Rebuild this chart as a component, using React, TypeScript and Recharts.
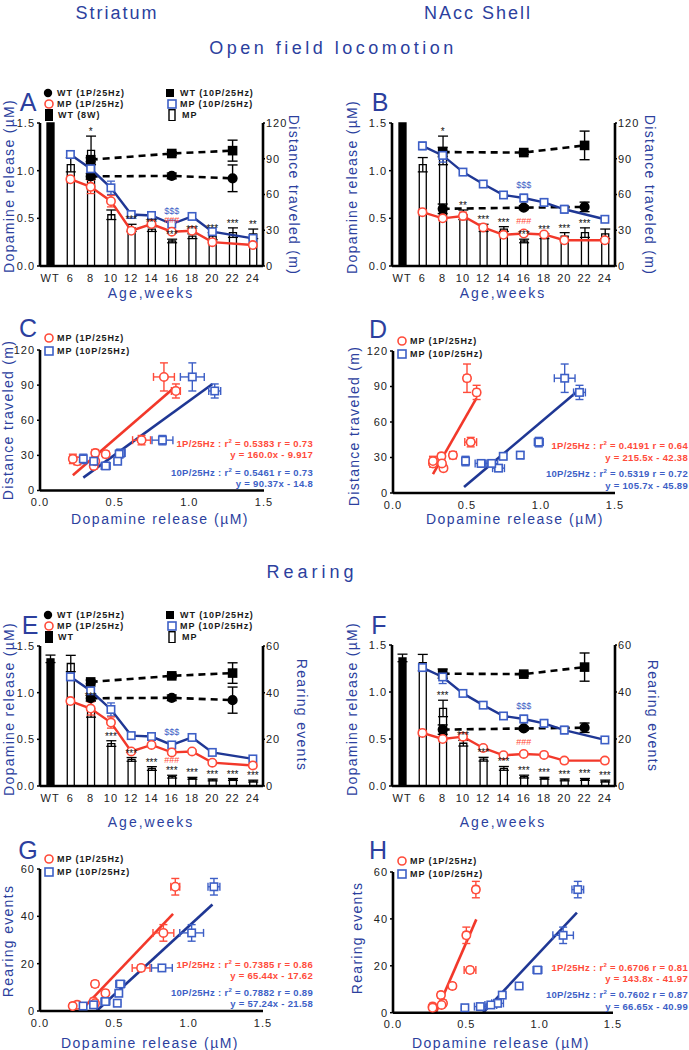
import React from "react"
import {
  ComposedChart,
  ScatterChart,
  Bar,
  Line,
  Scatter,
  XAxis,
  YAxis,
  ErrorBar,
  Cell,
  LabelList,
  ReferenceLine,
} from "recharts"

const FONT = "'Liberation Sans', Arial, Helvetica, sans-serif"
const BLUE = "#2c3f9e"
const NAVY = "#1f3794"
const LBLUE = "#3d5fc6"
const RED = "#f2382a"
const LRED = "#ff4b3a"

// categories
const ages = ["WT", "6", "8", "10", "12", "14", "16", "18", "20", "22", "24"]

// striatum dopamine release (uM)
const strMP1 = [null, 0.91, 0.83, 0.68, 0.37, 0.44, 0.36, 0.37, 0.25, null, 0.22]
const strMP1Err = [null, 0.03, 0.07, 0.06, 0.02, 0.02, 0.02, 0.02, 0.02, null, 0.02]
const strMP10 = [null, 1.17, 1.02, 0.82, 0.54, 0.53, 0.44, 0.52, 0.36, null, 0.29]
const strMP10Err = [null, 0.04, 0.08, 0.07, 0.03, 0.02, 0.03, 0.02, 0.02, null, 0.02]
const strWT1 = [null, null, 0.94, null, null, null, 0.945, null, null, 0.92, null]
const strWT1Err = [null, null, 0.03, null, null, null, 0.03, null, null, 0.14, null]
const strWT10 = [null, null, 1.115, null, null, null, 1.18, null, null, 1.21, null]
const strWT10Err = [null, null, 0.02, null, null, null, 0.02, null, null, 0.11, null]

// NAcc shell dopamine release (uM)
const nacMP1 = [null, 0.565, 0.5, 0.525, 0.405, 0.327, 0.341, 0.331, 0.27, null, 0.27]
const nacMP1Err = [null, 0.02, 0.02, 0.04, 0.02, 0.02, 0.02, 0.02, 0.02, null, 0.02]
const nacMP10 = [null, 1.26, 1.16, 0.985, 0.86, 0.745, 0.713, 0.667, 0.595, null, 0.49]
const nacMP10Err = [null, 0.04, 0.07, 0.03, 0.02, 0.02, 0.04, 0.04, 0.04, null, 0.02]
const nacWT1 = [null, null, 0.6, null, null, null, 0.612, null, null, 0.62, null]
const nacWT1Err = [null, null, 0.05, null, null, null, 0.02, null, null, 0.05, null]
const nacWT10 = [null, null, 1.195, null, null, null, 1.19, null, null, 1.265, null]
const nacWT10Err = [null, null, 0.05, null, null, null, 0.02, null, null, 0.15, null]

// behaviour (MP bars, WT bar first)
const distance = [120, 85, 97, 43, 32, 31, 21, 25, 25, 28, 27]
const distanceErr = [0, 6, 12, 4, 3, 2, 1.5, 2, 3, 4, 4]
const rearing = [54.5, 52.5, 33, 18.2, 11.4, 7.5, 4, 3.3, 2.6, 2.8, 2.1]
const rearingErr = [1.6, 3.5, 3.5, 1.2, 0.8, 0.8, 0.6, 0.4, 0.4, 0.4, 0.4]

// significance marks
const starsA = ["", "", "*", "", "***", "***", "***", "***", "***", "***", "**"]
const starsB = ["", "", "*", "**", "***", "***", "***", "***", "***", "***", ""]
const starsE = ["", "", "***", "***", "***", "***", "***", "***", "***", "***", "***"]
const starsF = ["", "", "***", "***", "***", "***", "***", "***", "***", "***", "***"]
const sigBlue = ["", "", "", "", "", "", "$$$", "", "", "", ""]
const sigRed = ["", "", "", "", "", "", "###", "", "", "", ""]

// regression segments [x, y]
const regStrDist1P = [[0.22, 13], [0.9, 88]]
const regStrDist10P = [[0.29, 11], [1.155, 91]]
const regNacDist1P = [[0.27, 16], [0.563, 80]]
const regNacDist10P = [[0.48, 5], [1.25, 86.5]]
const regStrRear1P = [[0.31, 2.5], [0.895, 41]]
const regStrRear10P = [[0.38, 0], [1.16, 45]]
const regNacRear1P = [[0.292, 0], [0.568, 39.8]]
const regNacRear10P = [[0.615, 0], [1.254, 42.7]]

// regression text
const fitStrDist = ["0.5383", "0.73", "160.0x - 9.917", "0.5461", "0.73", "90.37x - 14.8"]
const fitNacDist = ["0.4191", "0.64", "215.5x - 42.38", "0.5319", "0.72", "105.7x - 45.89"]
const fitStrRear = ["0.7385", "0.86", "65.44x - 17.62", "0.7882", "0.89", "57.24x - 21.58"]
const fitNacRear = ["0.6706", "0.81", "143.8x - 41.97", "0.7602", "0.87", "66.65x - 40.99"]

const axisLine = { stroke: "#000", strokeWidth: 2.6 }
const tickText = { fill: "#222", fontSize: 11, fontFamily: FONT, letterSpacing: 1 }

function pairs(xs: any[], xe: any[], ys: number[], ye: number[]) {
  return xs
    .map((x, i) => ({ x, y: ys[i], ex: xe[i], ey: ye[i], i }))
    .filter((d) => d.i > 0 && d.x != null)
}

const squareDot = (color: string, fill = "#fff", s = 7.4) => (p: any) =>
  p.cy == null || isNaN(p.cy) || p.value == null ? (
    <g key={`s${p.index}`} />
  ) : (
    <rect key={`s${p.index}`} x={p.cx - s / 2} y={p.cy - s / 2} width={s} height={s} fill={fill} stroke={color} strokeWidth={1.6} />
  )

const circleDot = (color: string, fill = "#fff", r = 4.2) => (p: any) =>
  p.cy == null || isNaN(p.cy) || p.value == null ? (
    <g key={`c${p.index}`} />
  ) : (
    <circle key={`c${p.index}`} cx={p.cx} cy={p.cy} r={r} fill={fill} stroke={color} strokeWidth={1.6} />
  )

function TimePanel(props: any) {
  const { box, mp1, mp1Err, mp10, mp10Err, wt1, wt1Err, wt10, wt10Err, beh, behErr, behMax, behTicks, stars, redBelow } = props
  const [L, T, R, B] = box
  const w = R - L + 70
  const h = B - T + 32
  const data = ages.map((age, i) => ({
    age,
    beh: beh[i],
    behErr: behErr[i],
    cap: i > 0 ? beh[i] + behErr[i] : null,
    star: stars[i],
    mp1: mp1[i],
    mp1Err: mp1Err[i],
    mp10: mp10[i],
    mp10Err: mp10Err[i],
    wt1: wt1[i],
    wt1Err: wt1Err[i],
    wt10: wt10[i],
    wt10Err: wt10Err[i],
    sigR: sigRed[i],
    sigB: sigBlue[i],
  }))
  return (
    <div style={{ position: "absolute", left: L - 40, top: T - 10 }}>
      <ComposedChart width={w} height={h} data={data} margin={{ top: 10, right: 0, bottom: 0, left: 8 }}>
        <XAxis dataKey="age" interval={0} tickLine={false} axisLine={axisLine} tick={tickText} height={22} />
        <YAxis
          yAxisId="l"
          width={32}
          domain={[0, 1.5]}
          ticks={[0, 0.5, 1, 1.5]}
          tickFormatter={(v) => v.toFixed(1)}
          axisLine={axisLine}
          tickLine={{ stroke: "#000", strokeWidth: 1.5 }}
          tickSize={3}
          tickMargin={2}
          tick={tickText}
        />
        <YAxis
          yAxisId="r"
          orientation="right"
          width={30}
          domain={[0, behMax]}
          ticks={behTicks}
          axisLine={axisLine}
          tickLine={{ stroke: "#000", strokeWidth: 1.5 }}
          tickSize={2}
          tickMargin={1}
          tick={tickText}
        />
        <Bar yAxisId="r" dataKey="beh" barSize={7} isAnimationActive={false}>
          {data.map((d, i) => (
            <Cell key={i} fill={i === 0 ? "#000" : "#fff"} stroke="#000" strokeWidth={1.3} />
          ))}
          <ErrorBar dataKey="behErr" width={5} stroke="#000" strokeWidth={1.3} direction="y" />
        </Bar>
        <Line yAxisId="r" dataKey="cap" stroke="none" dot={false} activeDot={false} isAnimationActive={false}>
          <LabelList dataKey="star" position="top" offset={1} fill="#111" fontSize={10} fontFamily={FONT} />
        </Line>
        <Line
          yAxisId="l"
          dataKey="wt10"
          stroke="#000"
          strokeWidth={2.6}
          strokeDasharray="7 5"
          connectNulls
          dot={squareDot("#000", "#000", 8)}
          activeDot={false}
          isAnimationActive={false}
        >
          <ErrorBar dataKey="wt10Err" width={5} stroke="#000" strokeWidth={1.4} direction="y" />
        </Line>
        <Line
          yAxisId="l"
          dataKey="wt1"
          stroke="#000"
          strokeWidth={2.6}
          strokeDasharray="7 5"
          connectNulls
          dot={circleDot("#000", "#000", 4.3)}
          activeDot={false}
          isAnimationActive={false}
        >
          <ErrorBar dataKey="wt1Err" width={5} stroke="#000" strokeWidth={1.4} direction="y" />
        </Line>
        <Line
          yAxisId="l"
          dataKey="mp10"
          stroke={NAVY}
          strokeWidth={2.4}
          connectNulls
          dot={squareDot(LBLUE)}
          activeDot={false}
          isAnimationActive={false}
        >
          <ErrorBar dataKey="mp10Err" width={4} stroke={LBLUE} strokeWidth={1.3} direction="y" />
          <LabelList dataKey="sigB" position="top" offset={10} fill={LBLUE} fontSize={9} fontFamily={FONT} />
        </Line>
        <Line
          yAxisId="l"
          dataKey="mp1"
          stroke={RED}
          strokeWidth={2.4}
          connectNulls
          dot={circleDot(LRED)}
          activeDot={false}
          isAnimationActive={false}
        >
          <ErrorBar dataKey="mp1Err" width={4} stroke={LRED} strokeWidth={1.3} direction="y" />
          <LabelList dataKey="sigR" position={redBelow ? "bottom" : "top"} offset={redBelow ? 4 : 9} fill={LRED} fontSize={9} fontFamily={FONT} />
        </Line>
      </ComposedChart>
    </div>
  )
}

const scatterCircle = (p: any) => <circle cx={p.cx} cy={p.cy} r={4.2} fill="#fff" stroke={LRED} strokeWidth={1.6} />
const scatterSquare = (p: any) => <rect x={p.cx - 3.7} y={p.cy - 3.7} width={7.4} height={7.4} fill="#fff" stroke={LBLUE} strokeWidth={1.6} />

function ScatterPanel(props: any) {
  const { box, yMax, yTicks, red, blue, regRed, regBlue } = props
  const [L, T, R, B] = box
  const w = R - L + 50
  const h = B - T + 32
  return (
    <div style={{ position: "absolute", left: L - 40, top: T - 10 }}>
      <ScatterChart width={w} height={h} margin={{ top: 10, right: 10, bottom: 0, left: 8 }}>
        <XAxis
          type="number"
          dataKey="x"
          domain={[0, 1.5]}
          ticks={[0, 0.5, 1, 1.5]}
          tickFormatter={(v) => v.toFixed(1)}
          tickLine={false}
          axisLine={axisLine}
          tick={tickText}
          height={22}
          allowDataOverflow
        />
        <YAxis
          type="number"
          dataKey="y"
          width={32}
          domain={[0, yMax]}
          ticks={yTicks}
          axisLine={axisLine}
          tickLine={{ stroke: "#000", strokeWidth: 1.5 }}
          tickSize={3}
          tickMargin={2}
          tick={tickText}
          allowDataOverflow
        />
        <ReferenceLine
          segment={[{ x: regRed[0][0], y: regRed[0][1] }, { x: regRed[1][0], y: regRed[1][1] }]}
          stroke={RED}
          strokeWidth={2.6}
          ifOverflow="visible"
        />
        <ReferenceLine
          segment={[{ x: regBlue[0][0], y: regBlue[0][1] }, { x: regBlue[1][0], y: regBlue[1][1] }]}
          stroke={NAVY}
          strokeWidth={2.6}
          ifOverflow="visible"
        />
        <Scatter data={red} shape={scatterCircle} isAnimationActive={false}>
          <ErrorBar dataKey="ex" direction="x" width={4} stroke={LRED} strokeWidth={1.4} />
          <ErrorBar dataKey="ey" direction="y" width={4} stroke={LRED} strokeWidth={1.4} />
        </Scatter>
        <Scatter data={blue} shape={scatterSquare} isAnimationActive={false}>
          <ErrorBar dataKey="ex" direction="x" width={4} stroke={LBLUE} strokeWidth={1.4} />
          <ErrorBar dataKey="ey" direction="y" width={4} stroke={LBLUE} strokeWidth={1.4} />
        </Scatter>
      </ScatterChart>
    </div>
  )
}

function Txt(props: any) {
  const { x, y, children, size = 14, color = BLUE, rot = 0, ls = 1, anchor = "middle", weight = 400, lh = 1 } = props
  const tx = anchor === "middle" ? "-50%" : anchor === "end" ? "-100%" : "0"
  return (
    <div
      style={{
        position: "absolute",
        left: x,
        top: y,
        transform: `translate(${tx}, -50%) rotate(${rot}deg)`,
        fontFamily: FONT,
        fontSize: size,
        color,
        letterSpacing: ls,
        fontWeight: weight,
        lineHeight: lh,
        whiteSpace: "nowrap",
      }}
    >
      {children}
    </div>
  )
}

function Letter({ x, y, children }: any) {
  return (
    <Txt x={x} y={y} size={25} ls={0} lh={0.75}>
      {children}
    </Txt>
  )
}

function Mark({ kind, x, y }: any) {
  let el = null
  if (kind === "dot") el = <circle cx={6} cy={6} r={4.2} fill="#000" />
  if (kind === "sq") el = <rect x={2} y={2} width={8} height={8} fill="#000" />
  if (kind === "ocirc") el = <circle cx={6} cy={6} r={4} fill="#fff" stroke={LRED} strokeWidth={1.6} />
  if (kind === "osq") el = <rect x={2} y={2} width={8} height={8} fill="#fff" stroke={LBLUE} strokeWidth={1.6} />
  if (kind === "bar") el = <rect x={2} y={0} width={8} height={12} fill="#000" />
  if (kind === "obar") el = <rect x={3} y={0.7} width={6} height={11} fill="#fff" stroke="#000" strokeWidth={1.4} />
  return (
    <svg width={12} height={12} style={{ position: "absolute", left: x - 6, top: y - 6 }}>
      {el}
    </svg>
  )
}

function LegendItem({ kind, label, mx, tx, y }: any) {
  return (
    <>
      <Mark kind={kind} x={mx} y={y} />
      <Txt x={tx} y={y} anchor="start" size={9} color="#1a1a1a" ls={0.9} weight={700}>
        {label}
      </Txt>
    </>
  )
}

function FitText({ fit, right, ys }: any) {
  const s = { size: 9.5, ls: 0.3, anchor: "end", weight: 700 }
  return (
    <>
      <Txt {...s} x={right} y={ys[0]} color={LRED}>
        1P/25Hz : r<sup style={{ fontSize: 6 }}>2</sup> = {fit[0]} r = {fit[1]}
      </Txt>
      <Txt {...s} x={right} y={ys[1]} color={LRED}>
        y = {fit[2]}
      </Txt>
      <Txt {...s} x={right} y={ys[2]} color={LBLUE}>
        10P/25Hz : r<sup style={{ fontSize: 6 }}>2</sup> = {fit[3]} r = {fit[4]}
      </Txt>
      <Txt {...s} x={right} y={ys[3]} color={LBLUE}>
        y = {fit[5]}
      </Txt>
    </>
  )
}

function TopLegend({ y, wtLabel }: any) {
  return (
    <>
      <LegendItem kind="dot" label="WT (1P/25Hz)" mx={48} tx={57} y={y} />
      <LegendItem kind="sq" label="WT (10P/25Hz)" mx={170} tx={180} y={y} />
      <LegendItem kind="ocirc" label="MP (1P/25Hz)" mx={49} tx={57} y={y + 11} />
      <LegendItem kind="osq" label="MP (10P/25Hz)" mx={172} tx={180} y={y + 11} />
      <LegendItem kind="bar" label={wtLabel} mx={49} tx={58} y={y + 22} />
      <LegendItem kind="obar" label="MP" mx={172} tx={182} y={y + 22} />
    </>
  )
}

function ScatterLegend({ mx, tx, y }: any) {
  return (
    <>
      <LegendItem kind="ocirc" label="MP (1P/25Hz)" mx={mx} tx={tx} y={y} />
      <LegendItem kind="osq" label="MP (10P/25Hz)" mx={mx} tx={tx} y={y + 13} />
    </>
  )
}

export default function App() {
  const dopa = "Dopamine release (\u00b5M)"
  return (
    <div style={{ position: "absolute", left: 0, top: 0, width: 689, height: 1050, background: "#fff", overflow: "hidden" }}>
      {/* headings */}
      <Txt x={117} y={13} size={18} ls={2}>Striatum</Txt>
      <Txt x={478} y={13} size={18} ls={2}>NAcc Shell</Txt>
      <Txt x={333} y={48} size={18} ls={3.5}>Open field locomotion</Txt>
      <Txt x={312} y={572} size={18} ls={4}>Rearing</Txt>

      {/* panel letters */}
      <Letter x={28} y={102}>A</Letter>
      <Letter x={380} y={102}>B</Letter>
      <Letter x={28} y={328}>C</Letter>
      <Letter x={378} y={329}>D</Letter>
      <Letter x={30} y={625}>E</Letter>
      <Letter x={379} y={625}>F</Letter>
      <Letter x={28} y={850}>G</Letter>
      <Letter x={378} y={850}>H</Letter>

      {/* A */}
      <TimePanel
        box={[40, 123, 263, 266]}
        mp1={strMP1} mp1Err={strMP1Err} mp10={strMP10} mp10Err={strMP10Err}
        wt1={strWT1} wt1Err={strWT1Err} wt10={strWT10} wt10Err={strWT10Err}
        beh={distance} behErr={distanceErr} behMax={120} behTicks={[0, 30, 60, 90, 120]}
        stars={starsA}
      />
      <TopLegend y={93} wtLabel="WT (8W)" />
      <Txt x={9} y={186} rot={-90} ls={1.3}>{dopa}</Txt>
      <Txt x={294} y={195} rot={90} ls={1.3}>Distance traveled (m)</Txt>
      <Txt x={151} y={293} ls={2}>Age,weeks</Txt>

      {/* B */}
      <TimePanel
        box={[392, 123, 615, 266]}
        mp1={nacMP1} mp1Err={nacMP1Err} mp10={nacMP10} mp10Err={nacMP10Err}
        wt1={nacWT1} wt1Err={nacWT1Err} wt10={nacWT10} wt10Err={nacWT10Err}
        beh={distance} behErr={distanceErr} behMax={120} behTicks={[0, 30, 60, 90, 120]}
        stars={starsB}
      />
      <Txt x={352} y={187} rot={-90} ls={1.3}>{dopa}</Txt>
      <Txt x={650} y={195} rot={90} ls={1.3}>Distance traveled (m)</Txt>
      <Txt x={503} y={293} ls={2}>Age,weeks</Txt>

      {/* C */}
      <ScatterPanel
        box={[40, 350, 264, 490.5]}
        yMax={120}
        yTicks={[0, 30, 60, 90, 120]}
        red={pairs(strMP1, strMP1Err, distance, distanceErr)}
        blue={pairs(strMP10, strMP10Err, distance, distanceErr)}
        regRed={regStrDist1P}
        regBlue={regStrDist10P}
      />
      <ScatterLegend mx={49} tx={57} y={338} />
      <FitText fit={fitStrDist} right={313} ys={[443, 455, 472, 484]} />
      <Txt x={8} y={420} rot={-90} ls={1.3}>Distance traveled (m)</Txt>
      <Txt x={160} y={519} ls={1.5}>{dopa}</Txt>

      {/* D */}
      <ScatterPanel
        box={[393, 351, 615, 493]}
        yMax={120}
        yTicks={[0, 30, 60, 90, 120]}
        red={pairs(nacMP1, nacMP1Err, distance, distanceErr)}
        blue={pairs(nacMP10, nacMP10Err, distance, distanceErr)}
        regRed={regNacDist1P}
        regBlue={regNacDist10P}
      />
      <ScatterLegend mx={402} tx={410} y={341} />
      <FitText fit={fitNacDist} right={688} ys={[445, 458, 473, 486]} />
      <Txt x={354} y={426} rot={-90} ls={1.3}>Distance traveled (m)</Txt>
      <Txt x={515} y={519} ls={1.5}>{dopa}</Txt>

      {/* E */}
      <TimePanel
        box={[40, 646, 263, 786]}
        mp1={strMP1} mp1Err={strMP1Err} mp10={strMP10} mp10Err={strMP10Err}
        wt1={strWT1} wt1Err={strWT1Err} wt10={strWT10} wt10Err={strWT10Err}
        beh={rearing} behErr={rearingErr} behMax={60} behTicks={[0, 20, 40, 60]}
        stars={starsE}
        redBelow
      />
      <TopLegend y={615} wtLabel="WT" />
      <Txt x={9} y={709} rot={-90} ls={1.3}>{dopa}</Txt>
      <Txt x={302} y={715} rot={90} ls={1.3}>Rearing events</Txt>
      <Txt x={151} y={822} ls={2}>Age,weeks</Txt>

      {/* F */}
      <TimePanel
        box={[392, 645, 615, 786]}
        mp1={nacMP1} mp1Err={nacMP1Err} mp10={nacMP10} mp10Err={nacMP10Err}
        wt1={nacWT1} wt1Err={nacWT1Err} wt10={nacWT10} wt10Err={nacWT10Err}
        beh={rearing} behErr={rearingErr} behMax={60} behTicks={[0, 20, 40, 60]}
        stars={starsF}
      />
      <Txt x={352} y={709} rot={-90} ls={1.3}>{dopa}</Txt>
      <Txt x={653} y={716} rot={90} ls={1.3}>Rearing events</Txt>
      <Txt x={503} y={822} ls={2}>Age,weeks</Txt>

      {/* G */}
      <ScatterPanel
        box={[40, 869, 263, 1011]}
        yMax={60}
        yTicks={[0, 20, 40, 60]}
        red={pairs(strMP1, strMP1Err, rearing, rearingErr)}
        blue={pairs(strMP10, strMP10Err, rearing, rearingErr)}
        regRed={regStrRear1P}
        regBlue={regStrRear10P}
      />
      <ScatterLegend mx={49} tx={57} y={859} />
      <FitText fit={fitStrRear} right={313} ys={[964, 976, 992, 1004]} />
      <Txt x={8} y={941} rot={-90} ls={1.3}>Rearing events</Txt>
      <Txt x={150} y={1043} ls={1.5}>{dopa}</Txt>

      {/* H */}
      <ScatterPanel
        box={[393, 872, 613, 1012.7]}
        yMax={60}
        yTicks={[0, 20, 40, 60]}
        red={pairs(nacMP1, nacMP1Err, rearing, rearingErr)}
        blue={pairs(nacMP10, nacMP10Err, rearing, rearingErr)}
        regRed={regNacRear1P}
        regBlue={regNacRear10P}
      />
      <ScatterLegend mx={402} tx={410} y={861} />
      <FitText fit={fitNacRear} right={688} ys={[967, 979, 994, 1007]} />
      <Txt x={357} y={938} rot={-90} ls={1.3}>Rearing events</Txt>
      <Txt x={501} y={1043} ls={1.5}>{dopa}</Txt>
    </div>
  )
}
